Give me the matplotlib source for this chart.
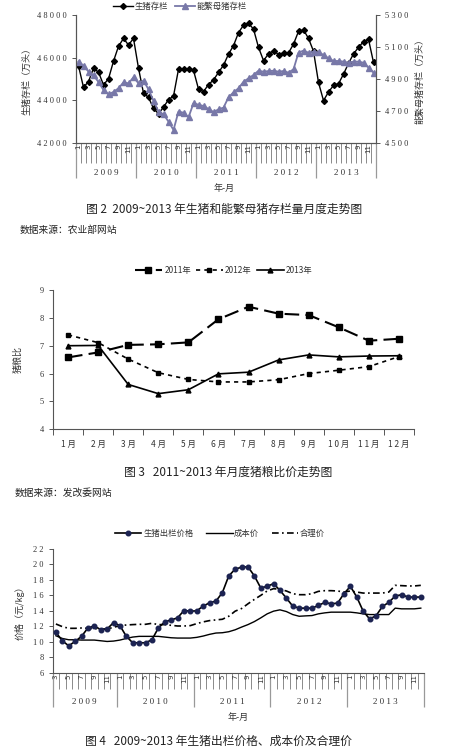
import numpy as np
import matplotlib
matplotlib.use("Agg")
import matplotlib.pyplot as plt

plt.rcParams['font.family'] = ['Noto Sans CJK SC', 'DejaVu Sans']

TXT = '#333333'
AXC = '#555555'

# ---- chart 1: hog / sow stock, 2009-2013 monthly
years1 = [2009, 2010, 2011, 2012, 2013]
hog_stock = [45610, 44600, 44870, 45500, 45310, 44720, 45000, 45830, 46530, 46900, 46590, 46900,
             45500, 44330, 44130, 43610, 43360, 43670, 44020, 44190, 45450, 45450, 45480, 45400,
             44520, 44400, 44730, 44950, 45300, 45640, 46160, 46560, 47170, 47520, 47610, 47340,
             46480, 45860, 46170, 46330, 46140, 46220, 46220, 46630, 47230, 47300, 46900, 46300,
             44830, 43980, 44380, 44690, 44770, 45220, 45730, 46170, 46480, 46750, 46860, 45770]
sow_stock = [5008, 4983, 4945, 4922, 4880, 4830, 4803, 4818, 4841, 4878, 4872, 4910,
             4872, 4889, 4834, 4763, 4695, 4678, 4632, 4580, 4695, 4688, 4659, 4747,
             4738, 4730, 4711, 4692, 4709, 4720, 4784, 4816, 4841, 4882, 4903, 4924,
             4951, 4945, 4949, 4951, 4945, 4949, 4939, 4960, 5064, 5077, 5064, 5070,
             5066, 5050, 5029, 5012, 5012, 5008, 5001, 5008, 5008, 5001, 4970, 4939]

# ---- chart 2: hog/grain price ratio
months2 = ['1月', '2月', '3月', '4月', '5月', '6月', '7月', '8月', '9月', '10月', '11月', '12月']
ratio_2011 = [6.58, 6.76, 7.03, 7.05, 7.12, 7.95, 8.40, 8.15, 8.10, 7.66, 7.18, 7.25]
ratio_2012 = [7.39, 7.11, 6.52, 6.03, 5.79, 5.70, 5.70, 5.78, 6.00, 6.12, 6.25, 6.61]
ratio_2013 = [7.00, 7.01, 5.61, 5.28, 5.42, 5.99, 6.05, 6.49, 6.67, 6.60, 6.63, 6.64]

# ---- chart 3: prices, 2009-03 .. 2013-12
start_month3 = 3
price = [11.22, 10.13, 9.48, 10.04, 10.70, 11.78, 12.04, 11.57, 11.65, 12.48,
         12.09, 10.70, 9.87, 9.87, 9.87, 10.26, 11.78, 12.57, 12.83, 13.09, 14.04, 13.96,
         14.00, 14.61, 15.04, 15.26, 16.35, 18.52, 19.39, 19.65, 19.70, 18.52, 16.96, 17.17,
         17.52, 16.65, 15.65, 14.61, 14.35, 14.35, 14.35, 14.70, 15.09, 14.91, 15.00, 16.22,
         17.17, 15.78, 13.96, 12.96, 13.35, 14.57, 15.09, 15.91, 16.09, 15.78, 15.78, 15.78]
cost = [10.78, 10.43, 10.26, 10.26, 10.22, 10.22, 10.22, 10.13, 10.04, 10.09,
        10.22, 10.43, 10.61, 10.70, 10.70, 10.70, 10.70, 10.61, 10.52, 10.48, 10.48, 10.48,
        10.57, 10.74, 10.96, 11.13, 11.17, 11.30, 11.55, 11.90, 12.22, 12.61, 13.09, 13.61,
        13.96, 14.13, 13.91, 13.52, 13.30, 13.35, 13.39, 13.61, 13.74, 13.83, 13.83, 13.83,
        13.83, 13.74, 13.61, 13.52, 13.52, 13.52, 13.52, 14.35, 14.26, 14.26, 14.26, 14.35]
fair = [12.30, 11.96, 11.74, 11.74, 11.78, 11.74, 11.70, 11.65, 11.65, 11.87,
        12.09, 12.17, 12.22, 12.26, 12.26, 12.39, 12.22, 12.22, 12.13, 12.04, 12.04, 12.09,
        12.35, 12.57, 12.74, 12.83, 12.91, 13.30, 13.96, 14.30, 14.91, 15.48, 16.00, 16.57,
        16.87, 16.78, 16.57, 16.22, 16.09, 16.09, 16.22, 16.52, 16.61, 16.61, 16.57, 16.43,
        16.57, 16.43, 16.30, 16.30, 16.30, 16.30, 16.43, 17.30, 17.26, 17.22, 17.22, 17.30]


def sp(s):
    return ' '.join(str(s))


def style_ax(ax, sides=('left', 'bottom')):
    for k, s in ax.spines.items():
        if k in sides:
            s.set_color(AXC)
            s.set_linewidth(0.8)
        else:
            s.set_visible(False)
    ax.tick_params(colors=AXC, labelcolor=TXT, width=0.7, length=3, labelsize=6)


def month_axis(ax, ym, mlen, ylen, ylab):
    # two level category axis: months then years
    n = len(ym)
    tr = ax.get_xaxis_transform()
    ax.set_xticks([])
    ax.vlines(np.arange(n + 1) - 0.5, -mlen, 0, transform=tr, clip_on=False,
              color='#777777', lw=0.6)
    for i, (y, m) in enumerate(ym):
        if m % 2 == 1:
            ax.text(i, -0.012, str(m), transform=tr, rotation=90, ha='center', va='top',
                    fontsize=5, color=TXT, family='DejaVu Sans')
    ys = [y for y, m in ym]
    bounds = [0] + [i for i in range(1, n) if ys[i] != ys[i - 1]] + [n]
    ax.vlines(np.array(bounds) - 0.5, -ylen, 0, transform=tr, clip_on=False,
              color='#999999', lw=0.9)
    for a, b in zip(bounds[:-1], bounds[1:]):
        ax.text((a + b - 1) / 2, ylab, sp(ys[a]), transform=tr, ha='center', va='center',
                fontsize=6.5, color=TXT, family='Liberation Serif')


W, H = 472, 755
fig = plt.figure(figsize=(W / 100, H / 100), dpi=100)


def box(l, t, r, b):
    return [l / W, 1 - b / H, (r - l) / W, (b - t) / H]


# ================= chart 1
ax1 = fig.add_axes(box(76, 15, 376, 142.7))
ym1 = [(y, m) for y in years1 for m in range(1, 13)]
x1 = np.arange(len(ym1))
l1, = ax1.plot(x1, hog_stock, color='black', lw=1.0, marker='D', ms=3, zorder=3)
ax1.set_ylim(42000, 48000)
ax1.set_yticks(np.arange(42000, 48001, 2000))
ax1.set_yticklabels([sp(v) for v in range(42000, 48001, 2000)], family='Liberation Serif')
ax1.set_xlim(-0.5, len(ym1) - 0.5)
style_ax(ax1, ('left', 'bottom', 'right'))
ax1.set_ylabel('生猪存栏（万头）', fontsize=6.5, color=TXT, labelpad=4)
ax1b = ax1.twinx()
l2, = ax1b.plot(x1, sow_stock, color='#7878A8', lw=1.3, marker='^', ms=4, zorder=2)
ax1b.set_ylim(4500, 5300)
ax1b.set_yticks(np.arange(4500, 5301, 200))
ax1b.set_yticklabels([sp(v) for v in range(4500, 5301, 200)], family='Liberation Serif')
style_ax(ax1b, ('left', 'bottom', 'right'))
ax1b.set_ylabel('能繁母猪存栏（万头）', fontsize=6.5, color=TXT, labelpad=5)
month_axis(ax1, ym1, 0.16, 0.277, -0.237)
fig.text(224 / W, 1 - 188 / H, '年-月', ha='center', va='center', fontsize=6.5, color=TXT)
fig.legend([l1, l2], ['生猪存栏', '能繁母猪存栏'], ncol=2, frameon=False,
           loc='center', bbox_to_anchor=(180 / W, 1 - 6 / H), fontsize=6,
           handlelength=2.4, columnspacing=0.8, handletextpad=0.2, labelcolor=TXT)
fig.text(224 / W, 1 - 209 / H, '图 2  2009~2013 年生猪和能繁母猪存栏量月度走势图',
         ha='center', va='center', fontsize=8.5, color='#222222')
fig.text(20 / W, 1 - 230 / H, '数据来源：农业部网站', ha='left', va='center',
         fontsize=7, color='#222222')

# ================= chart 2
ax2 = fig.add_axes(box(53, 290, 414, 429.3))
x2 = np.arange(len(months2))
a, = ax2.plot(x2, ratio_2011, color='black', lw=1.5, dashes=(7, 3), marker='s', ms=5)
b, = ax2.plot(x2, ratio_2012, color='black', lw=1.2, dashes=(2.5, 2.5), marker='s', ms=3)
c, = ax2.plot(x2, ratio_2013, color='black', lw=1.2, marker='^', ms=3.5)
ax2.set_xlim(-0.5, len(months2) - 0.5)
ax2.set_ylim(4, 9)
ax2.set_yticks(range(4, 10))
ax2.set_yticklabels([str(v) for v in range(4, 10)], family='Liberation Serif')
ax2.set_xticks(x2)
ax2.set_xticklabels([sp(m) for m in months2])
ax2.set_xticks(np.arange(len(months2) + 1) - 0.5, minor=True)
style_ax(ax2)
ax2.tick_params(axis='x', which='major', length=0, pad=8, labelsize=6)
ax2.tick_params(axis='x', which='minor', length=4, color=AXC, width=0.7)
ax2.set_ylabel('猪粮比', fontsize=6.5, color=TXT, labelpad=12)
fig.legend([a, b, c], ['2011年', '2012年', '2013年'], ncol=3, frameon=False,
           loc='center', bbox_to_anchor=(224 / W, 1 - 270 / H), fontsize=6,
           handlelength=3.2, columnspacing=0.6, handletextpad=0.3, labelcolor=TXT)
fig.text(228 / W, 1 - 472 / H, '图 3   2011~2013 年月度猪粮比价走势图',
         ha='center', va='center', fontsize=8.5, color='#222222')
fig.text(15 / W, 1 - 493 / H, '数据来源：发改委网站', ha='left', va='center',
         fontsize=7, color='#222222')

# ================= chart 3
ax3 = fig.add_axes(box(52.7, 549, 424, 672.7))
ym3 = [(y, m) for y in years1 for m in range(1, 13) if not (y == years1[0] and m < start_month3)]
x3 = np.arange(len(ym3))
p, = ax3.plot(x3, price, color='black', lw=1.2, marker='o', ms=3.3,
              mfc='#1C2352', mec='#1C2352', zorder=3)
q, = ax3.plot(x3, cost, color='black', lw=1.0)
r, = ax3.plot(x3, fair, color='black', lw=1.2, dashes=(4, 2, 1, 2))
ax3.set_xlim(-0.5, len(ym3) - 0.5)
ax3.set_ylim(6, 22)
ax3.set_yticks(range(6, 23, 2))
ax3.set_yticklabels([sp(v) for v in range(6, 23, 2)], family='Liberation Serif')
style_ax(ax3)
ax3.set_ylabel('价格（元/kg）', fontsize=6.5, color=TXT, labelpad=6)
month_axis(ax3, ym3, 0.132, 0.277, -0.237)
fig.text(238 / W, 1 - 717 / H, '年-月', ha='center', va='center', fontsize=6.5, color=TXT)
fig.legend([p, q, r], ['生猪出栏价格', '成本价', '合理价'], ncol=3, frameon=False,
           loc='center', bbox_to_anchor=(220 / W, 1 - 533 / H), fontsize=6,
           handlelength=3.2, columnspacing=1.5, handletextpad=0.2, labelcolor=TXT)
fig.text(218 / W, 1 - 741 / H, '图 4   2009~2013 年生猪出栏价格、成本价及合理价',
         ha='center', va='center', fontsize=8.5, color='#222222')

fig.savefig('out.png', dpi=100, facecolor='white')
